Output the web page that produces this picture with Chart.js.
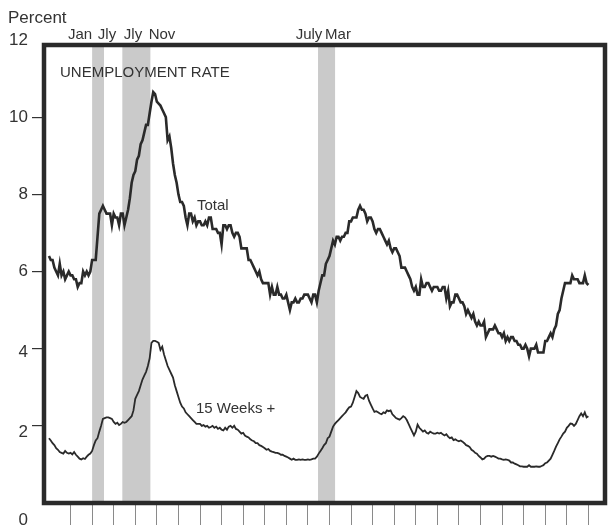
<!DOCTYPE html>
<html>
<head>
<meta charset="utf-8">
<script src="https://cdn.jsdelivr.net/npm/chart.js@4.4.1/dist/chart.umd.min.js"></script>
<style>
  html, body { margin: 0; padding: 0; background: #fff; }
  #wrap { width: 609px; height: 527px; position: relative; }
</style>
</head>
<body>
<div id="wrap"><canvas id="myChart"></canvas></div>
<script>
// monthly data, Jan 1978 .. Jan 2003
var startYear = 1978;

var totalRate = [
  6.4,6.3,6.3,6.1,6.0,5.9,6.2,5.9,6.0,5.8,5.9,6.0,
  5.9,5.9,5.8,5.8,5.6,5.7,5.7,6.0,5.9,6.0,5.9,6.0,
  6.3,6.3,6.3,6.9,7.5,7.6,7.7,7.6,7.5,7.5,7.5,7.2,
  7.5,7.4,7.4,7.2,7.5,7.5,7.2,7.4,7.6,7.9,8.3,8.5,
  8.6,8.9,9.0,9.3,9.4,9.6,9.8,9.8,10.1,10.4,10.65,10.6,
  10.4,10.35,10.3,10.2,10.1,10.0,9.4,9.5,9.2,8.8,8.5,8.3,
  8.0,7.8,7.8,7.7,7.4,7.2,7.5,7.5,7.3,7.4,7.2,7.3,
  7.3,7.2,7.2,7.3,7.2,7.4,7.4,7.1,7.1,7.1,7.0,7.0,
  6.7,7.2,7.2,7.1,7.2,7.2,7.0,6.9,7.0,7.0,6.9,6.6,
  6.6,6.6,6.6,6.3,6.3,6.2,6.1,6.0,5.9,6.0,5.8,5.7,
  5.7,5.7,5.7,5.4,5.6,5.4,5.4,5.6,5.4,5.4,5.3,5.3,
  5.4,5.2,5.0,5.2,5.2,5.3,5.2,5.2,5.3,5.3,5.4,5.4,
  5.4,5.3,5.2,5.4,5.4,5.2,5.5,5.7,5.9,5.9,6.2,6.3,
  6.4,6.6,6.8,6.7,6.9,6.9,6.8,6.9,6.9,7.0,7.0,7.3,
  7.3,7.4,7.4,7.4,7.6,7.7,7.6,7.6,7.5,7.3,7.4,7.4,
  7.3,7.1,7.0,7.1,7.1,7.0,6.9,6.8,6.7,6.8,6.6,6.5,
  6.6,6.6,6.5,6.4,6.1,6.1,6.1,6.0,5.9,5.8,5.6,5.5,
  5.6,5.4,5.4,5.8,5.6,5.6,5.7,5.7,5.6,5.5,5.6,5.6,
  5.6,5.5,5.5,5.6,5.6,5.3,5.5,5.1,5.2,5.2,5.4,5.4,
  5.3,5.2,5.2,5.1,4.9,5.0,4.9,4.8,4.9,4.7,4.6,4.7,
  4.6,4.6,4.7,4.3,4.4,4.5,4.5,4.5,4.6,4.5,4.4,4.4,
  4.3,4.4,4.2,4.3,4.2,4.3,4.3,4.2,4.2,4.1,4.1,4.0,
  4.0,4.1,4.0,3.8,4.0,4.0,4.0,4.1,3.9,3.9,3.9,3.9,
  4.2,4.2,4.3,4.4,4.3,4.5,4.6,4.9,5.0,5.3,5.5,5.7,
  5.7,5.7,5.7,5.9,5.8,5.8,5.8,5.7,5.7,5.7,5.9,5.7,
  5.65
];

var weeks15Rate = [
  1.68,1.62,1.55,1.5,1.42,1.38,1.32,1.3,1.28,1.35,1.3,1.28,
  1.3,1.26,1.32,1.25,1.2,1.15,1.13,1.16,1.14,1.2,1.25,1.28,
  1.35,1.5,1.62,1.68,1.85,2.0,2.18,2.2,2.22,2.22,2.2,2.18,
  2.1,2.05,2.08,2.02,2.05,2.1,2.08,2.1,2.15,2.2,2.25,2.4,
  2.7,2.8,2.9,3.05,3.2,3.3,3.4,3.55,3.75,4.15,4.2,4.2,
  4.18,4.15,3.97,4.05,3.85,3.7,3.55,3.45,3.35,3.25,3.05,2.9,
  2.75,2.6,2.5,2.45,2.35,2.3,2.25,2.2,2.15,2.1,2.05,2.05,
  2.05,2.0,2.02,1.98,2.0,1.95,1.97,2.0,1.95,1.98,1.92,1.95,
  1.9,1.88,1.95,1.9,1.98,2.0,1.95,2.0,1.92,1.9,1.85,1.8,
  1.82,1.75,1.72,1.7,1.65,1.62,1.6,1.55,1.55,1.5,1.48,1.45,
  1.42,1.38,1.4,1.35,1.33,1.32,1.3,1.3,1.28,1.25,1.25,1.22,
  1.2,1.18,1.15,1.12,1.15,1.12,1.12,1.13,1.12,1.13,1.12,1.12,
  1.13,1.12,1.13,1.15,1.15,1.2,1.28,1.35,1.42,1.5,1.55,1.68,
  1.72,1.85,1.98,2.05,2.1,2.15,2.2,2.25,2.3,2.35,2.42,2.48,
  2.5,2.6,2.75,2.9,2.85,2.75,2.72,2.7,2.78,2.8,2.65,2.55,
  2.45,2.36,2.38,2.35,2.32,2.3,2.35,2.33,2.4,2.38,2.4,2.3,
  2.25,2.2,2.18,2.16,2.2,2.25,2.22,2.15,2.05,1.95,1.85,1.75,
  1.85,2.03,1.95,1.9,1.85,1.88,1.82,1.8,1.85,1.82,1.8,1.8,
  1.82,1.8,1.82,1.78,1.75,1.78,1.72,1.68,1.7,1.63,1.65,1.62,
  1.6,1.62,1.59,1.55,1.5,1.48,1.45,1.38,1.35,1.3,1.28,1.22,
  1.18,1.13,1.15,1.2,1.22,1.22,1.2,1.22,1.2,1.18,1.15,1.15,
  1.13,1.12,1.13,1.12,1.1,1.05,1.05,1.02,1.0,0.98,0.95,0.95,
  0.94,0.94,0.94,0.98,0.94,0.94,0.94,0.95,0.94,0.94,0.96,0.98,
  1.03,1.05,1.1,1.15,1.25,1.35,1.46,1.55,1.65,1.72,1.8,1.85,
  1.95,2.0,2.06,2.05,2.0,2.05,2.15,2.25,2.32,2.25,2.35,2.22,
  2.25
];

// recessions (decimal years), as shaded in the picture
var recessionStart = [1980.0, 1981.4, 1990.47];
var recessionEnd   = [1980.55, 1982.7, 1991.26];
var recessionLabels = [['Jan', 'Jly'], ['Jly', 'Nov'], ['July', 'Mar']];

var yTicks = [0, 2, 4, 6, 8, 10, 12];
var tickYears = [1979,1980,1981,1982,1983,1984,1985,1986,1987,1988,1989,1990,
  1991,1992,1993,1994,1995,1996,1997,1998,1999,2000,2001,2002,2003];

var FONT = '"Liberation Sans", Arial, Helvetica, sans-serif';
var INK = '#2a2a2a';

function toPoints(arr) {
  return arr.map(function (v, i) { return { x: startYear + i / 12, y: v }; });
}

/* shaded bands + frame + texts */
var decorations = {
  id: 'decorations',
  beforeDatasetsDraw: function (chart) {
    var ctx = chart.ctx, a = chart.chartArea, xs = chart.scales.x;
    ctx.save();
    ctx.fillStyle = '#cacaca';
    for (var i = 0; i < recessionStart.length; i++) {
      var x0 = xs.getPixelForValue(recessionStart[i]);
      var x1 = xs.getPixelForValue(recessionEnd[i]);
      ctx.fillRect(x0, a.top + 5, x1 - x0, a.bottom - a.top - 5);
    }
    ctx.restore();
  },
  afterDraw: function (chart) {
    var ctx = chart.ctx, a = chart.chartArea, xs = chart.scales.x, ys = chart.scales.y;
    ctx.save();
    // frame
    ctx.strokeStyle = INK;
    ctx.lineWidth = 4.5;
    ctx.strokeRect(a.left, a.top + 5, a.right - a.left, a.bottom - a.top - 5);

    ctx.fillStyle = '#333';
    // y labels
    var shift = [17, 6, 4, 0, 0, 0, 0];
    ctx.font = '17px ' + FONT;
    ctx.textAlign = 'right';
    ctx.textBaseline = 'middle';
    yTicks.forEach(function (v, i) {
      ctx.fillText(String(v), 28, ys.getPixelForValue(v) + shift[i]);
    });

    ctx.textAlign = 'left';
    ctx.textBaseline = 'alphabetic';
    ctx.fillText('Percent', 8, 23);

    // recession month labels above the frame
    ctx.font = '15px ' + FONT;
    ctx.textAlign = 'center';
    var lblX = [[80, 107], [133, 162], [309, 338]];
    recessionLabels.forEach(function (pair, i) {
      ctx.fillText(pair[0], lblX[i][0], 39);
      ctx.fillText(pair[1], lblX[i][1], 39);
    });

    ctx.textAlign = 'left';
    ctx.fillText('UNEMPLOYMENT RATE', 60, 77);
    ctx.fillText('Total', 197, 210);
    ctx.fillText('15 Weeks +', 196, 413);
    ctx.restore();
  }
};

var ctx = document.getElementById('myChart');
var chart = new Chart(ctx, {
  type: 'line',
  data: {
    datasets: [{
      label: 'Total',
      data: toPoints(totalRate),
      borderColor: INK,
      borderWidth: 2.6,
      pointRadius: 0,
      tension: 0
    }, {
      label: '15 Weeks +',
      data: toPoints(weeks15Rate),
      borderColor: INK,
      borderWidth: 1.8,
      pointRadius: 0,
      tension: 0
    }]
  },
  options: {
    responsive: true,
    maintainAspectRatio: false,
    animation: false,
    layout: { padding: { top: 40, right: 4, left: 0, bottom: 0 } },
    plugins: {
      legend: { display: false },
      tooltip: { enabled: false }
    },
    scales: {
      x: {
        type: 'linear',
        min: 1977.77,
        max: 2003.77,
        border: { display: false },
        grid: { drawOnChartArea: false, drawTicks: true, tickLength: 22, color: '#8a8a8a', lineWidth: 1 },
        ticks: { display: false },
        afterBuildTicks: function (scale) {
          scale.ticks = tickYears.map(function (v) { return { value: v }; });
        },
        afterFit: function (scale) { scale.height = 24; }
      },
      y: {
        min: 0,
        max: 12,
        border: { display: false },
        grid: {
          drawOnChartArea: false,
          drawTicks: true,
          tickLength: 12,
          lineWidth: 1.2,
          color: function (c) {
            // no tick at the frame edges
            return (c.tick && (c.tick.value === 0 || c.tick.value === 12)) ? 'rgba(0,0,0,0)' : '#333';
          }
        },
        ticks: { stepSize: 2, color: 'rgba(0,0,0,0)', font: { size: 17 } },
        afterFit: function (scale) { scale.width = 44; }
      }
    }
  },
  plugins: [decorations]
});
</script>
</body>
</html>
